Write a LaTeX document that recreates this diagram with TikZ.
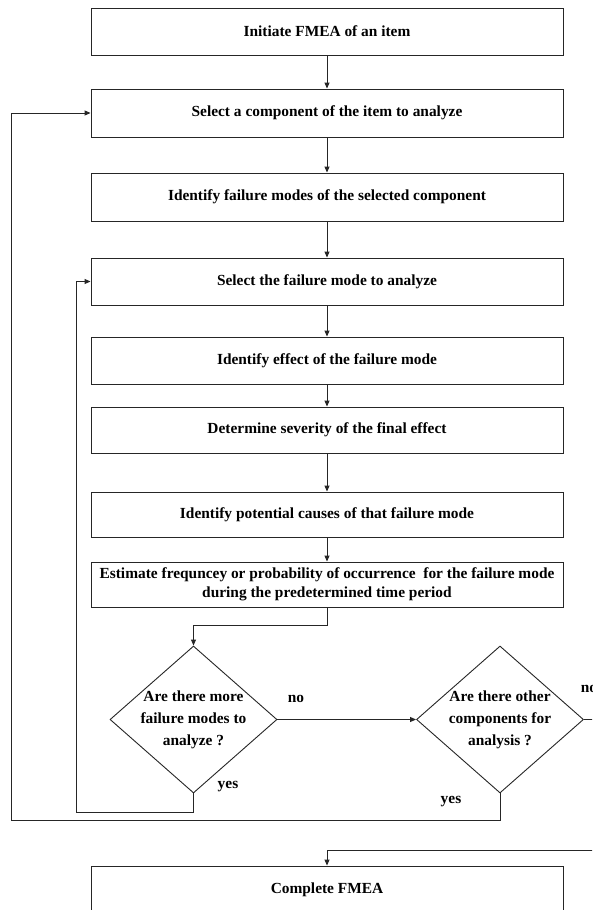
\documentclass[tikz,border=0pt]{standalone}
\usepackage{fontspec}
\setmainfont{Liberation Serif}
\usetikzlibrary{arrows.meta,shapes.geometric}
\begin{document}
\begin{tikzpicture}[x=1pt,y=-1pt,
  every node/.style={font=\fontsize{15.4}{18.5}\selectfont\bfseries},
  stepbox/.style={draw=black!85,line width=0.9pt,minimum width=472pt,minimum height=47pt,inner sep=0pt,align=center},
  decision/.style={draw=black!85,line width=0.9pt,diamond,minimum width=167pt,minimum height=147pt,inner sep=0pt,aspect=1.136},
  dtext/.style={align=center,font=\fontsize{15.4}{22}\selectfont\bfseries},
  conn/.style={draw=black!85,line width=0.9pt},
  arr/.style={conn,-{Triangle[width=5pt,length=6pt]}}]
\clip (0,0) rectangle (592,910);
\fill[white] (0,0) rectangle (592,910);
\node[stepbox] (b1) at (327,31.5) {Initiate FMEA of an item};
\node[stepbox,minimum height=48pt] (b2) at (327,113) {Select a component of the item to analyze};
\node[stepbox,minimum height=48pt] (b3) at (327,197) {Identify failure modes of the selected component};
\node[stepbox] (b4) at (327,281.5) {Select the failure mode to analyze};
\node[stepbox] (b5) at (327,360.5) {Identify effect of the failure mode};
\node[stepbox,minimum height=46pt] (b6) at (327,430) {Determine severity of the final effect};
\node[stepbox,minimum height=45pt] (b7) at (327,514.5) {Identify potential causes of that failure mode};
\node[stepbox,minimum height=45pt] (b8) at (327,584.5) {Estimate frequncey or probability of occurrence\ \ for the failure mode\\during the predetermined time period};
\node[decision] (d1) at (193.5,719.5) {};
\node[dtext] (t1) at (d1.center) {Are there more\\failure modes to\\analyze ?};
\node[decision] (d2) at (500,719.5) {};
\node[dtext] (t2) at (d2.center) {Are there other\\components for\\analysis ?};
\node[stepbox] (b9) at (327,889.5) {Complete FMEA};
\node (no1) at (296,699) {no};
\node (no2) at (589,689) {no};
\node (yes1) at (228,787) {yes};
\node (yes2) at (451,802) {yes};
\coordinate (c1) at (193.5,625);
\coordinate (c2) at (76,812);
\coordinate (c3) at (11,820);
\coordinate (c4) at (620,850);
\draw[arr] (b1) -- (b2);
\draw[arr] (b2) -- (b3);
\draw[arr] (b3) -- (b4);
\draw[arr] (b4) -- (b5);
\draw[arr] (b5) -- (b6);
\draw[arr] (b6) -- (b7);
\draw[arr] (b7) -- (b8);
\draw[arr] (b8.south) |- (c1) -- (d1.north);
\draw[arr] (d1.east) -- (d2.west);
\draw[arr] (d1.south) |- (c2) |- (b4.west);
\draw[arr] (d2.south) |- (c3) |- (b2.west);
\draw[arr] (d2.east) -| (c4) -| (b9.north);
\end{tikzpicture}
\end{document}
